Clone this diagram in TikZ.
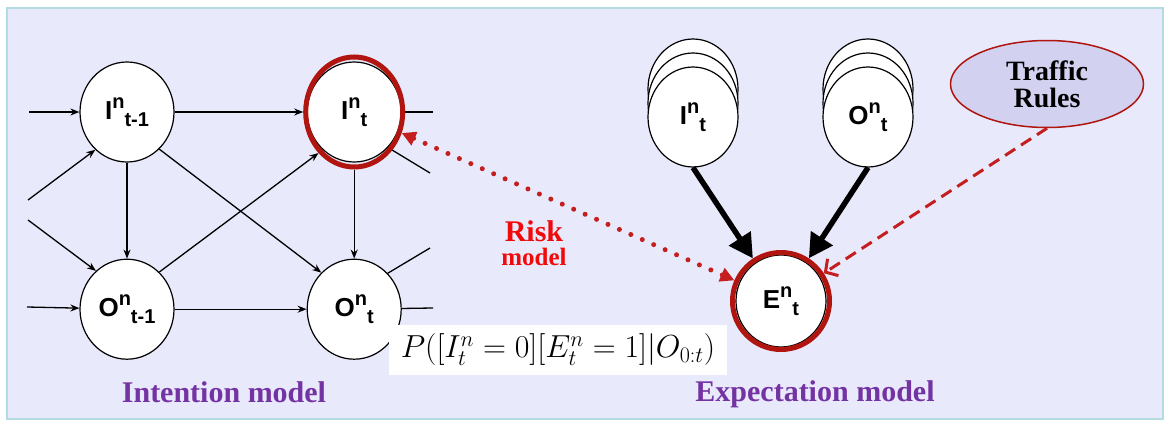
\documentclass[tikz,border=0pt]{standalone}
\usepackage{fontspec}
\setmainfont{Liberation Serif}
\setsansfont{Liberation Sans}
\usetikzlibrary{arrows.meta,positioning,shapes.geometric}
\definecolor{BgFill}{HTML}{E9E9FC}
\definecolor{BgLine}{HTML}{B3DCE0}
\definecolor{RingRed}{HTML}{B0150F}
\definecolor{RiskRed}{HTML}{F00A0A}
\definecolor{DotRed}{HTML}{C41E1E}
\definecolor{Violet}{HTML}{7433A3}
\definecolor{RuleFill}{HTML}{D2D2F0}
\newcommand{\nlab}[3]{#1\raisebox{11pt}{\fontsize{20}{20}\selectfont #2}\raisebox{-7pt}{\fontsize{20}{20}\selectfont #3}}
\tikzset{
  var/.style={ellipse,draw=black,fill=white,line width=1.2pt,minimum width=94pt,minimum height=100pt,inner sep=0pt,font=\sffamily\bfseries\fontsize{26}{26}\selectfont},
  stk/.style={var,minimum width=90pt},
  hot/.style={ellipse,draw=RingRed,line width=5pt,minimum width=97pt,minimum height=110pt,inner sep=0pt},
  rules/.style={ellipse,draw=RingRed,fill=RuleFill,line width=1.5pt,minimum width=193pt,minimum height=87pt,align=center,font=\bfseries\fontsize{28}{27}\selectfont},
  caption/.style={text=Violet,font=\bfseries\fontsize{30}{30}\selectfont},
  dep/.style={-{Stealth[length=9pt,width=7pt]},line width=1.3pt},
  causal/.style={-{Triangle[length=24pt,width=25pt]},line width=5.5pt},
  risk/.style={{Triangle[length=14pt,width=14pt]}-{Triangle[length=14pt,width=14pt]},draw=DotRed,line width=5pt,line cap=round,dash pattern=on 0pt off 12.5pt},
  rule/.style={-{Straight Barb[length=9pt,width=20pt]},draw=DotRed,line width=3pt,dash pattern=on 12pt off 7pt},
}
\begin{document}
\begin{tikzpicture}[x=1pt,y=-1pt]
        \useasboundingbox (0,0) rectangle (1164,423);
        \draw[BgLine,line width=2pt,fill=BgFill] (7,8) rectangle (1163,419);
        \node[var] (Itm1) at (127,112) {\nlab{I}{n}{t-1}};
        \node[var,right=132pt of Itm1] (It) {\nlab{I}{n}{t}};
        \node[var,below=96pt of Itm1] (Otm1) {\nlab{O}{n}{t-1}};
        \node[var,below=96pt of It] (Ot) {\nlab{O}{n}{t}};
        \node[hot] (Itr) at (It) {};
        \coordinate (inA) at (29,112);
        \coordinate (inB) at (28,200);
        \coordinate (inC) at (28,220);
        \coordinate (inD) at (27,307);
        \coordinate (outA) at (433,112);
        \coordinate (outB) at (430,173);
        \coordinate (outC) at (430,248);
        \coordinate (outD) at (433,308);
        \draw[dep] (inA) -- (Itm1);
        \draw[dep] (inB) -- (Itm1.230);
        \draw[dep] (inC) -- (Otm1.129);
        \draw[dep] (inD) -- (Otm1);
        \draw[dep] (Itm1) -- (Itr);
        \draw[dep] (Otm1) -- (Ot);
        \draw[dep] (Itm1) -- (Otm1);
        \draw[dep] (Itr) -- (Ot);
        \draw[dep] (Itm1.-49) -- (Ot.132);
        \draw[dep] (Otm1.49) -- (Itr.229);
        \draw[line width=1.3pt] (Itr) -- (outA);
        \draw[line width=1.3pt] (Itr.-45) -- (outB);
        \draw[line width=1.3pt] (Ot.47) -- (outC);
        \draw[line width=1.3pt] (Ot) -- (outD);
        \foreach \v/\x in {I/693,O/868} {
          \foreach \dy in {28,14}
            \node[stk] (\v bk\dy) at (\x,117-\dy) {};
          \node[stk] (\v st) at (\x,117) {\nlab{\v}{n}{t}};
        }
        \node[var,minimum width=90pt,minimum height=92pt] (Et) at (781,301) {\nlab{E}{n}{t}};
        \node[hot,minimum width=97pt,minimum height=97pt] (Etr) at (Et) {};
        \node[rules] (TR) at (1047,84) {Traffic\\Rules};
        \draw[causal] (Ist.south) -- (Etr);
        \draw[causal] (Ost.south) -- (Etr);
        \draw[rule] (TR.south) -- (Etr);
        \draw[risk] (Itr) -- (Etr);
        \node[text=RiskRed,align=center,font=\bfseries\fontsize{30}{24}\selectfont] (Rsk) at (534,243) {Risk\\{\fontsize{25}{24}\selectfont model}};
        \node[fill=white,minimum width=338pt,minimum height=50pt,inner sep=0pt,font=\fontsize{27}{27}\selectfont] (Prob) at (558,350) {\scalebox{1.28}{$P([I_t^n=0][E_t^n=1]|O_{0:t})$}};
        \node[caption] (Icap) at (224,392) {Intention model};
        \node[caption] (Ecap) at (815,394) {Expectation model};
      \end{tikzpicture}
\end{document}
